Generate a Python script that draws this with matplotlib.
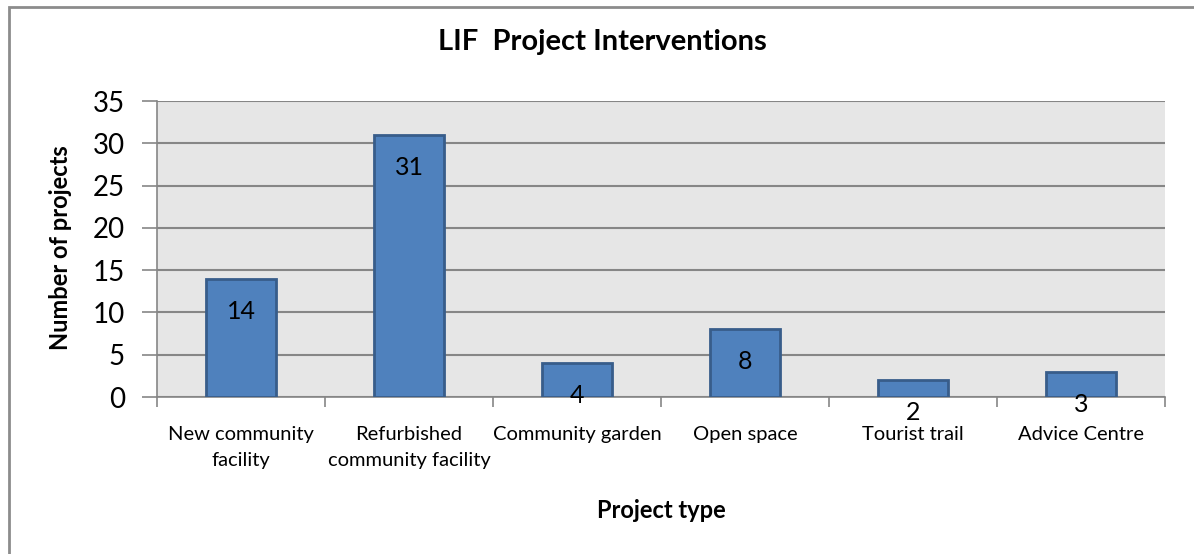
import matplotlib
matplotlib.use("Agg")
import matplotlib.pyplot as plt
import numpy as np
from matplotlib.patches import Rectangle

categories = ["New community\nfacility", "Refurbished\ncommunity facility",
              "Community garden", "Open space", "Tourist trail", "Advice Centre"]
counts = [14, 31, 4, 8, 2, 3]
yticks = [0, 5, 10, 15, 20, 25, 30, 35]

plt.rcParams['font.family'] = ['Lato', 'DejaVu Sans']

W, H = 1194, 554
fig = plt.figure(figsize=(W / 100, H / 100), dpi=100)
ax = fig.add_axes([157 / W, 1 - 397 / H, (1165 - 157) / W, (397 - 101) / H])

# outer chart frame (only left/top visible in the reference)
fig.patches.append(Rectangle((9 / W, -0.1), 1.2, 1 - 7 / H + 0.1,
                             transform=fig.transFigure, fill=False,
                             edgecolor="#8c8c8c", linewidth=2))

x = np.arange(len(categories))
ax.set_facecolor("#e6e6e6")
bars = ax.bar(x, counts, width=0.417, color="#4f81bd", edgecolor="#385d8a",
              linewidth=2, zorder=3)

ax.set_xlim(-0.5, len(categories) - 0.5)
ax.set_ylim(0, 35)
ax.set_yticks(yticks)
ax.yaxis.grid(True, color="#868686", linewidth=1.5, zorder=0)
ax.set_axisbelow(True)
ax.tick_params(axis="y", labelsize=20, length=11, width=1.2, color="#868686", pad=12)

ax.set_xticks(x)
ax.set_xticklabels(categories, fontsize=14.5, linespacing=1.6)
ax.set_xticks(np.arange(len(categories) + 1) - 0.5, minor=True)
ax.tick_params(axis="x", which="major", length=0, pad=21)
ax.tick_params(axis="x", which="minor", length=7, width=1.2, color="#868686")

for s in ["top", "right"]:
    ax.spines[s].set_visible(False)
for s in ["left", "bottom"]:
    ax.spines[s].set_color("#868686")
    ax.spines[s].set_linewidth(1.2)

for rect, v in zip(bars, counts):
    ax.annotate(str(v), xy=(rect.get_x() + rect.get_width() / 2, v),
                xytext=(0, -23.5), textcoords="offset points",
                ha="center", va="center", fontsize=18, zorder=5)

fig.text(602 / W, 1 - 42 / H, "LIF  Project Interventions", ha="center",
         va="center", fontsize=21, fontweight="bold")
fig.text(60 / W, 1 - 248 / H, "Number of projects", rotation=90, ha="center",
         va="center", fontsize=17, fontweight="bold")
fig.text(661 / W, 1 - 511 / H, "Project type", ha="center", va="center",
         fontsize=17, fontweight="bold")

plt.savefig("out.png", dpi=100)
